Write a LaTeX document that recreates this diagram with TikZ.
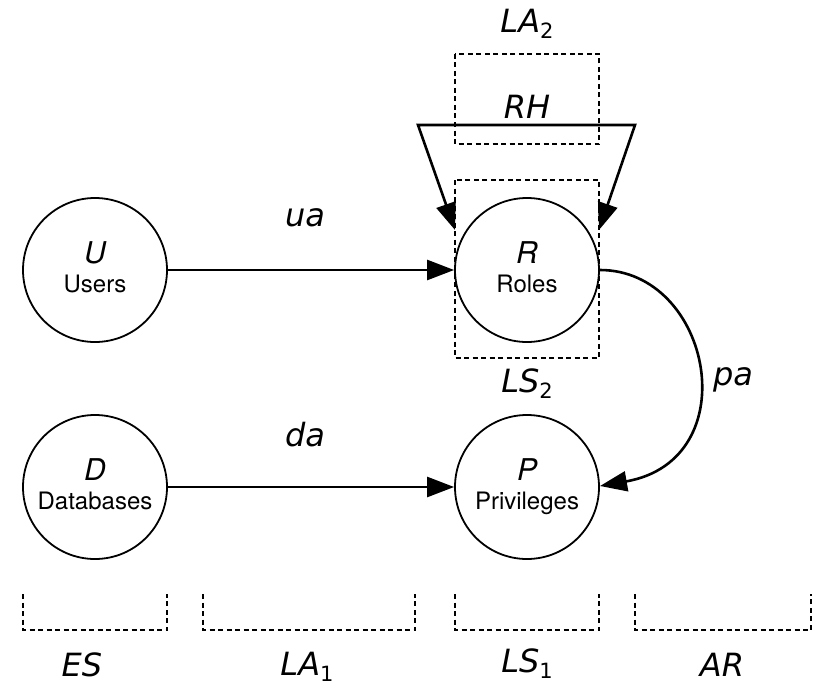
\documentclass[tikz,border=0pt]{standalone}
\usepackage{fontspec}
\setmainfont{TeX Gyre Heros}
\newfontfamily\labfont{DejaVu Sans}
\usetikzlibrary{arrows.meta}
\newcommand\mylab[2]{{\itshape #1}\raisebox{-6pt}{\fontsize{21}{21}\selectfont\upshape #2}}
\begin{document}
\begin{tikzpicture}[x=1pt,y=-1pt,
  circ/.style={draw,circle,line width=1.8pt,minimum size=144pt,inner sep=0pt},
  letter/.style={anchor=base,inner sep=0pt,font=\fontsize{30}{30}\selectfont\itshape},
  word/.style={anchor=base,inner sep=0pt,font=\fontsize{24}{24}\selectfont},
  tip/.style={Triangle[length=27pt,width=20pt]},
  conn/.style={line width=2.6pt,-{Triangle[length=27pt,width=20pt]}},
  dbox/.style={draw,line width=1.5pt,dash pattern=on 5pt off 3.5pt},
  lab/.style={font=\fontsize{32}{34}\selectfont\labfont\itshape}]
\useasboundingbox (0,0) rectangle (829,690);
\node[circ] (U) at (95,270) {};
\node[circ] (R) at (527,270) {};
\node[circ] (D) at (95,487) {};
\node[circ] (P) at (527,487) {};
\path (U) ++(0,-7) node[letter] (Ul) {U} (U) ++(0,22) node[word] (Uw) {Users};
\path (R) ++(0,-7) node[letter] (Rl) {R} (R) ++(0,22) node[word] (Rw) {Roles};
\path (D) ++(0,-7) node[letter] (Dl) {D} (D) ++(0,22) node[word] (Dw) {Databases};
\path (P) ++(0,-7) node[letter] (Pl) {P} (P) ++(0,22) node[word] (Pw) {Privileges};
% dashed boxes
\draw[dbox] (455,54) rectangle (599,144);
\draw[dbox] (455,180) rectangle (599,358);
\draw[dbox] (23,594) -- (23,630) -- (167,630) -- (167,594);
\draw[dbox] (203,594) -- (203,630) -- (415,630) -- (415,594);
\draw[dbox] (455,594) -- (455,630) -- (599,630) -- (599,594);
\draw[dbox] (635,594) -- (635,630) -- (811,630) -- (811,594);
% connectors
\draw[conn] (U) -- (R);
\draw[conn] (D) -- (P);
\coordinate (rhL) at (418,125);
\coordinate (rhR) at (635,125);
\coordinate (tL) at (455,230);
\coordinate (tR) at (599,230);
\draw[line width=2.6pt,{Triangle[length=27pt,width=20pt]}-{Triangle[length=27pt,width=20pt]}] (tL) -- (rhL) -- (rhR) -- (tR);
\coordinate (pend) at (600,486);
\draw[conn] (R.east) .. controls (712,270) and (748,460) .. (pend);
% labels
\node[lab] (la2) at (527,24) {\mylab{LA}{2}};
\node[lab] (rh) at (527,107) {RH};
\node[lab] (ua) at (305,218) {ua};
\node[lab] (da) at (305,435) {da};
\node[lab] (pa) at (733,380) {pa};
\node[lab] (ls2) at (527,384) {\mylab{LS}{2}};
\node[lab] (es) at (82,665) {ES};
\node[lab] (la1) at (307,667) {\mylab{LA}{1}};
\node[lab] (ls1) at (527,664) {\mylab{LS}{1}};
\node[lab] (ar) at (722,665) {AR};
\end{tikzpicture}
\end{document}
